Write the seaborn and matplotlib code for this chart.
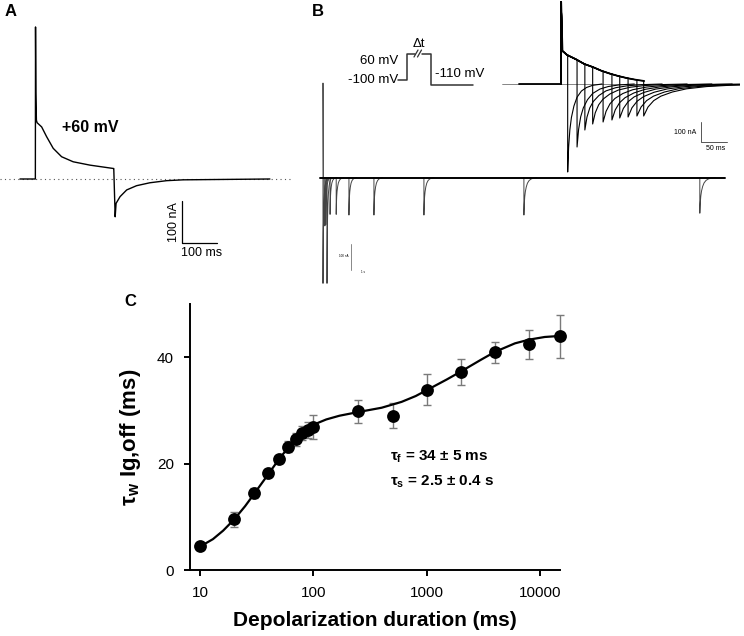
import numpy as np
import matplotlib
matplotlib.use('Agg')
import matplotlib.pyplot as plt
import seaborn as sns

# ---------------- data ----------------
# panel A: gating current at +60 mV (ms, nA)
a_time_ms = [0, 30, 44, 44.5, 45.5, 47, 49, 62, 76, 95, 119, 152, 200, 267,
             268, 272, 274.6, 286, 305, 333, 371, 419, 466, 714]
a_current_nA = [0, 0, 0, 362, 205, 140, 134, 124, 101, 73, 53, 41, 33, 25,
                25, -90, -58, -42, -26, -16, -9, -4, -2, 0]

# panel B, long record (s, nA): one OFF tail per depolarization duration
b_tail_onset_s = [0.0, 0.02, 0.04, 0.06, 0.085, 0.15, 0.28, 0.55, 1.08, 2.14, 4.26, 7.99]
b_tail_peak_nA = [-460, -210, -210, -205, -460, -160, -160, -163, -163, -163, -163, -155]
b_tail_tau_s = [0.02, 0.02, 0.02, 0.02, 0.02, 0.025, 0.03, 0.03, 0.035, 0.04, 0.05, 0.06]
b_trace_end_s = 8.52
b_spike_nA = 411

# panel B, inset (ms, nA)
inset_env_ms = [0, 0, 0.5, 3, 12, 30, 45, 62, 78, 94, 110, 126, 142, 160]
inset_env_nA = [0, 410, 410, 165, 145, 122, 100, 84, 66, 52, 40, 30, 22, 15]
inset_tail_onset_ms = [13, 31, 46, 61, 81, 98, 113, 129, 146, 159]
inset_tail_start_nA = [145, 120, 100, 85, 64, 50, 40, 30, 21, 15]
inset_tail_peak_nA = [-440, -315, -230, -200, -190, -180, -170, -165, -160, -160]
inset_tail_tau_ms = [12, 20, 27, 33, 38, 42, 46, 50, 53, 55]

# normalized tail recovery
tail_shape_x = [0, 0.15, 0.35, 0.6, 1.0, 1.5, 2.2, 3.0, 4.0, 5.5]
tail_shape_y = [1.0, 0.72, 0.52, 0.38, 0.25, 0.15, 0.08, 0.04, 0.015, 0.0]

# pulse protocol
protocol_labels = ['-100 mV', '60 mV', '-110 mV']

# panel C
durations_ms = [10, 20, 30, 40, 50, 60, 70, 80, 90, 100, 250, 500, 1000, 2000, 4000, 8000, 15000]
tau_w_ms = [4.6, 9.5, 14.5, 18.3, 20.8, 23.2, 24.6, 25.8, 26.4, 26.9, 29.8, 29.0, 33.9, 37.2, 40.9, 42.4, 43.9]
tau_w_err = [0.4, 1.4, 1.0, 0.7, 0.6, 1.0, 1.2, 1.3, 1.5, 2.3, 2.1, 2.4, 2.9, 2.4, 2.0, 2.8, 4.0]
fit_x = [10, 13, 16, 20, 25, 30, 40, 50, 60, 70, 80, 100, 130, 170, 250, 400, 600,
         800, 1000, 1500, 2000, 3000, 4000, 6000, 8000, 11000, 15000]
fit_y = [4.4, 5.8, 7.4, 9.5, 12.0, 14.3, 18.0, 20.9, 23.0, 24.6, 25.8, 27.3, 28.3, 29.0,
         29.7, 30.5, 31.6, 32.7, 33.8, 35.8, 37.3, 39.5, 41.0, 42.6, 43.3, 43.8, 44.0]
x_ticks = [10, 100, 1000, 10000]
y_ticks = [0, 20, 40]

# ---------------- figure ----------------
sns.set_theme(style='white')
plt.rcParams['font.family'] = ['Liberation Sans', 'DejaVu Sans']
plt.rcParams['mathtext.fontset'] = 'custom'
plt.rcParams['mathtext.rm'] = 'Liberation Sans'
plt.rcParams['mathtext.bf'] = 'Liberation Sans:bold'
plt.rcParams['mathtext.it'] = 'Liberation Sans:italic'
for key in ['text.color', 'axes.labelcolor', 'xtick.color', 'ytick.color']:
    plt.rcParams[key] = 'black'

W, H = 744, 636
fig = plt.figure(figsize=(W / 100, H / 100), dpi=100)
fig.patch.set_facecolor('white')


def px_rect(x0, y0, x1, y1):
    return [x0 / W, 1 - y1 / H, (x1 - x0) / W, (y1 - y0) / H]


def ftext(x, y, s, **kw):
    fig.text(x / W, 1 - y / H, s, **kw)


def tail_curve(onset, start, peak, tau):
    t = [onset, onset] + [onset + s * tau for s in tail_shape_x]
    v = [start, peak] + [peak * f for f in tail_shape_y]
    return t, v


# ---- panel A ----
axA = fig.add_axes(px_rect(0, 20, 300, 260))
axA.set_xlim(-57, 800)
axA.set_ylim(-192.9, 378.6)
axA.axis('off')
axA.plot([-57, 771], [0, 0], ls=(0, (1, 3)), color='#555555', lw=0.8)
sns.lineplot(x=a_time_ms, y=a_current_nA, sort=False, estimator=None,
             color='black', lw=1.0, ax=axA)
# scale bar 100 nA / 100 ms
axA.plot([463, 463, 563], [-52.4, -152.4, -152.4], color='black', lw=0.9)
axA.text(440, -102, '100 nA', rotation=90, ha='center', va='center', fontsize=9)
axA.text(520, -176, '100 ms', ha='center', va='center', fontsize=9)
axA.text(200, 123, '+60 mV', ha='center', va='center', fontsize=11.5, fontweight='bold')

# ---- panel B long record ----
axB = fig.add_axes(px_rect(318, 75, 730, 290))
axB.set_xlim(-0.106, 8.63)
axB.set_ylim(-489, 446)
axB.axis('off')
for on, pk, tau in zip(b_tail_onset_s, b_tail_peak_nA, b_tail_tau_s):
    t, v = tail_curve(on, 0, pk, tau)
    axB.plot(t, v, color='#444444', lw=0.7)
axB.plot([0, 0, 0.01], [0, b_spike_nA, 0], color='#555555', lw=0.7)
axB.plot([-0.064, b_trace_end_s], [0, 0], color='black', lw=1.4)
axB.plot([0.6, 0.6], [-290, -400], color='#888888', lw=0.7)
axB.text(0.45, -340, '100 nA', fontsize=2.2, ha='center', va='center')
axB.text(0.85, -410, '1 s', fontsize=2.2, ha='center', va='center')

# ---- panel B inset ----
axI = fig.add_axes(px_rect(500, 0, 740, 175))
axI.set_xlim(-117, 344)
axI.set_ylim(-455, 420)
axI.axis('off')
axI.plot([-113, 334], [0, 0], color='#555555', lw=0.5)
axI.plot([-81, 0], [0, 0], color='black', lw=1.3)
for on, st, pk, tau in zip(inset_tail_onset_ms, inset_tail_start_nA,
                           inset_tail_peak_nA, inset_tail_tau_ms):
    env_t = [t for t in inset_env_ms if t < on] + [on]
    env_v = [v for t, v in zip(inset_env_ms, inset_env_nA) if t < on] + [st]
    t, v = tail_curve(on, st, pk, tau)
    axI.plot(env_t + t[1:], env_v + v[1:], color='black', lw=0.8)
axI.plot(inset_env_ms, inset_env_nA, color='black', lw=1.3)
# scale bar 100 nA / 50 ms
axI.plot([269, 269, 319], [-190, -290, -290], color='#555555', lw=0.7)
axI.text(238, -240, '100 nA', fontsize=5, ha='center', va='center')
axI.text(298, -325, '50 ms', fontsize=5, ha='center', va='center')

# ---- pulse protocol ----
axP = fig.add_axes(px_rect(390, 30, 480, 95))
axP.set_xlim(-8, 82)
axP.set_ylim(0, 65)
axP.axis('off')
lev = {'-100 mV': 15, '60 mV': 41, '-110 mV': 10}
pc = '#333333'
axP.plot([0, 9, 9, 17], [lev['-100 mV']] * 2 + [lev['60 mV']] * 2, color=pc, lw=1.1)
axP.plot([24, 33, 33, 75], [lev['60 mV']] * 2 + [lev['-110 mV']] * 2, color=pc, lw=1.1)
axP.plot([16, 20], [38, 45], color=pc, lw=0.9)
axP.plot([19.5, 23.5], [38, 45], color=pc, lw=0.9)
axP.text(21, 51, 'Δt', ha='center', va='center', fontsize=9.5)
axP.text(0, lev['60 mV'] - 7, protocol_labels[1], ha='right', va='center', fontsize=9.5)
axP.text(0, lev['-100 mV'], protocol_labels[0], ha='right', va='center', fontsize=9.5)
axP.text(37, 21, protocol_labels[2], ha='left', va='center', fontsize=9.5)

# ---- panel C ----
axC = fig.add_axes(px_rect(190, 304, 560, 570))
axC.set_xscale('log')
axC.set_xlim(8.16, 15000)
axC.set_ylim(0, 50)
axC.errorbar(durations_ms, tau_w_ms, yerr=tau_w_err, fmt='none', ecolor='#7a7a7a',
             elinewidth=1.0, capsize=2.8, capthick=1.0, zorder=2, clip_on=False)
sns.lineplot(x=fit_x, y=fit_y, sort=False, estimator=None, color='black', lw=1.6,
             ax=axC, zorder=3)
sns.scatterplot(x=durations_ms, y=tau_w_ms, s=85, color='black', edgecolor='black',
                linewidth=0, zorder=4, clip_on=False, ax=axC)
axC.set_xticks(x_ticks)
axC.set_xticklabels([str(v) for v in x_ticks])
axC.minorticks_off()
axC.set_yticks(y_ticks)
for sp in ['top', 'right']:
    axC.spines[sp].set_visible(False)
for sp in ['left', 'bottom']:
    axC.spines[sp].set_linewidth(1.4)
    axC.spines[sp].set_color('black')
axC.tick_params(axis='both', direction='out', length=4.5, width=1.4, color='black',
                labelsize=11, pad=7, bottom=True, left=True)
axC.set_xlabel('Depolarization duration (ms)', fontsize=15, fontweight='bold', labelpad=8)
axC.set_ylabel(r'τ$_\mathbf{w}$ Ig,off (ms)', fontsize=16, fontweight='bold', labelpad=10)
axC.text(472, 21.2, r'τ$_\mathbf{f}$ = 34 ± 5 ms', fontsize=11, fontweight='bold', va='center')
axC.text(472, 16.6, r'τ$_\mathbf{s}$ = 2.5 ± 0.4 s', fontsize=11, fontweight='bold', va='center')

# panel letters
ftext(11, 12, 'A', fontsize=12, fontweight='bold', ha='center', va='center')
ftext(318, 11, 'B', fontsize=12, fontweight='bold', ha='center', va='center')
ftext(130, 302, 'C', fontsize=12, fontweight='bold', ha='center', va='center')

fig.savefig('out.png', dpi=100, facecolor='white')
